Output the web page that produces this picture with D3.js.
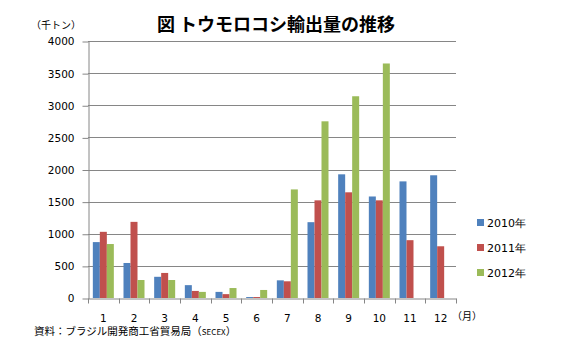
<!DOCTYPE html>
<html><head><meta charset="utf-8">
<script src="https://cdn.jsdelivr.net/npm/d3@7/dist/d3.min.js"></script>
<style>
html,body{margin:0;padding:0;background:#fff;}
svg{display:block;}
</style>
</head><body>
<svg id="chart" width="563" height="360"></svg>
<script>
const months = ["1","2","3","4","5","6","7","8","9","10","11","12"];
const seriesNames = ["2010年","2011年","2012年"];
const values2010 = [870, 545, 330, 200, 95, 15, 275, 1180, 1925, 1580, 1815, 1910];
const values2011 = [1030, 1185, 390, 110, 60, 15, 260, 1520, 1645, 1520, 900, 805];
const values2012 = [840, 280, 280, 95, 155, 125, 1690, 2750, 3140, 3650, null, null];
const yTicks = [0, 500, 1000, 1500, 2000, 2500, 3000, 3500, 4000];
const colors = ["#4F81BD", "#C0504D", "#9BBB59"];

(function () {
const seriesValues = [values2010, values2011, values2012];
const svg = d3.select("#chart");
const pLeft = 88, pRight = 456, pTop = 41, pBottom = 298;
const gray = "#868686";
const jp = "'Noto Sans CJK JP', sans-serif";
const num = "'DejaVu Sans', sans-serif";

const y = d3.scaleLinear().domain([0, 4000]).range([pBottom, pTop]);
const x0 = d3.scaleBand().domain(months).range([pLeft, pRight]).padding(0);
const x1 = d3.scaleBand().domain(seriesNames).range([0, x0.bandwidth()]).paddingInner(0).paddingOuter(0.69);

// gridlines
svg.append("g").selectAll("line").data(yTicks.filter(d => d > 0)).join("line")
  .attr("x1", pLeft).attr("x2", pRight)
  .attr("y1", d => Math.round(y(d)) + 0.5).attr("y2", d => Math.round(y(d)) + 0.5)
  .attr("stroke", gray).attr("stroke-width", 1);

// bars
const rows = [];
months.forEach((m, i) => seriesNames.forEach((s, j) => {
  const v = seriesValues[j][i];
  if (v != null) rows.push({m, s, v, j});
}));
svg.append("g").selectAll("rect").data(rows).join("rect")
  .attr("x", d => x0(d.m) + x1(d.s))
  .attr("width", x1.bandwidth())
  .attr("y", d => y(d.v))
  .attr("height", d => y(0) - y(d.v))
  .attr("fill", d => colors[d.j]);

// y axis
const yAxis = d3.axisLeft(y).tickValues(yTicks).tickFormat(d3.format("d"))
  .tickSize(6).tickPadding(8).tickSizeOuter(0);
const gy = svg.append("g").attr("transform", `translate(${pLeft + 0.5},0.5)`).call(yAxis);
gy.select(".domain").attr("stroke", gray);
gy.selectAll(".tick line").attr("stroke", gray);
gy.selectAll(".tick text").attr("font-family", num).attr("font-size", "10.5px").attr("fill", "#000");

// x axis
const xAxis = d3.axisBottom(x0).tickSize(0).tickPadding(16);
const gx = svg.append("g").attr("transform", `translate(0,${pBottom + 0.5})`).call(xAxis);
gx.select(".domain").attr("stroke", gray);
gx.selectAll(".tick text").attr("font-family", num).attr("font-size", "10.5px").attr("fill", "#000");
const bounds = months.map(m => x0(m)).concat([pRight]);
gx.append("g").selectAll("line").data(bounds).join("line")
  .attr("x1", d => Math.round(d) + 0.5).attr("x2", d => Math.round(d) + 0.5)
  .attr("y1", 0).attr("y2", 5).attr("stroke", gray);

// title
svg.append("text").attr("x", 276).attr("y", 31).attr("text-anchor", "middle")
  .attr("font-family", jp).attr("font-size", "18px").attr("font-weight", "bold")
  .attr("fill", "#000").text("図 トウモロコシ輸出量の推移");

// unit labels
svg.append("text").attr("x", 56).attr("y", 29).attr("text-anchor", "middle")
  .attr("font-family", jp).attr("font-size", "10px").attr("fill", "#000").text("（千トン）");
svg.append("text").attr("x", 467).attr("y", 320).attr("text-anchor", "middle")
  .attr("font-family", jp).attr("font-size", "10px").attr("fill", "#000").text("（月）");

// source
const src = svg.append("text").attr("x", 34).attr("y", 335)
  .attr("font-family", jp).attr("font-size", "10.5px").attr("fill", "#000");
src.append("tspan").text("資料：ブラジル開発商工省貿易局（");
src.append("tspan").attr("font-size", "8px").text("SECEX");
src.append("tspan").text("）");

// legend
const lg = svg.append("g").selectAll("g").data(seriesNames).join("g")
  .attr("transform", (d, i) => `translate(477,${219 + i * 25})`);
lg.append("rect").attr("width", 7).attr("height", 7).attr("fill", (d, i) => colors[i]);
lg.append("text").attr("x", 10).attr("y", 7.5)
  .attr("font-family", num).attr("font-size", "11px").attr("fill", "#000").text(d => d);
})();
</script>
</body></html>
